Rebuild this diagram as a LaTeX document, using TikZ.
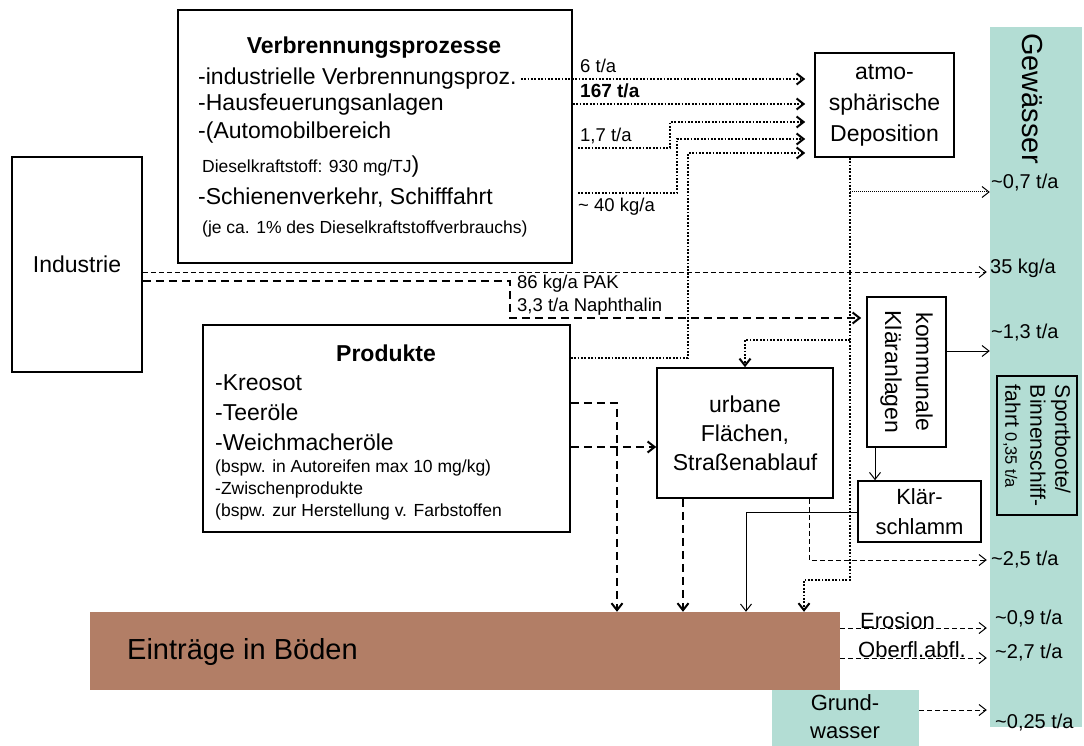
\documentclass[tikz,border=0pt]{standalone}
\usepackage{fontspec}
\setmainfont{Liberation Sans}
\usetikzlibrary{arrows.meta}
\definecolor{teal2}{RGB}{179,221,212}
\definecolor{soil}{RGB}{178,126,102}
\newcommand\fsz[2]{\fontsize{#1}{#2}\selectfont}
\begin{document}
\begin{tikzpicture}[x=1pt,y=-1pt,
 box/.style={draw,line width=1.6pt,inner sep=0pt,align=center},
 lt/.style={inner sep=0pt,anchor=west},
 big/.style={font=\fsz{23}{28}},
 sm/.style={font=\fsz{17.5}{20}},
 lab/.style={font=\fsz{18.5}{22}},
 gl/.style={inner sep=0pt,anchor=west,font=\fsz{20}{24}},
 tipA/.style={-{Straight Barb[length=7pt,width=11pt]}},
 dotA/.style={tipA,line width=2pt,dash pattern=on 1.8pt off 1.6pt},
 fdotA/.style={tipA,line width=1pt,dash pattern=on 1pt off 1pt},
 tdashA/.style={tipA,line width=2pt,dash pattern=on 8pt off 5pt},
 ndashA/.style={tipA,line width=1pt,dash pattern=on 5pt off 3pt},
 solA/.style={tipA,line width=1pt},
]
\useasboundingbox (0,0) rectangle (1084,746);
% filled areas
\node[fill=teal2,minimum width=92pt,minimum height=700pt,inner sep=0pt] (gew) at (1036,377) {};
\node[fill=soil,minimum width=750pt,minimum height=78pt,inner sep=0pt] (boden) at (465,651) {};
\node[fill=teal2,minimum width=147pt,minimum height=60pt,inner sep=0pt] (gw) at (845.5,720) {};
% boxes
\node[box,minimum width=394pt,minimum height=253pt] (verb) at (375,136.5) {};
\node[box,minimum width=130pt,minimum height=215pt,font=\fsz{23}{28}] (ind) at (77,264.5) {Industrie};
\node[box,minimum width=139pt,minimum height=104pt,font=\fsz{23}{31}] (atmo) at (884.5,105) {atmo-\\sphärische\\Deposition};
\node[box,minimum width=79pt,minimum height=150pt] (kom) at (906.5,372) {};
\node[rotate=-90,align=center,font=\fsz{23}{31},inner sep=0pt] (komt) at (906.5,372) {kommunale\\Kläranlagen};
\node[box,minimum width=123pt,minimum height=61pt,font=\fsz{22}{30}] (ks) at (919.5,511.5) {Klär-\\schlamm};
\node[box,minimum width=176pt,minimum height=130pt,font=\fsz{23}{29}] (urb) at (745,433) {urbane\\Flächen,\\Straßenablauf};
\node[box,minimum width=367pt,minimum height=207pt] (prod) at (386.5,428.5) {};
\node[box,line width=1.4pt,minimum width=80pt,minimum height=139pt] (sport) at (1037,445.5) {};
\node[rotate=-90,align=left,inner sep=0pt,font=\fsz{21}{25}] (sportt) at (1037,445.5) {Sportboote/\\Binnenschiff-\\fahrt {\fsz{16.5}{25}0,35 t/a}};
% Verbrennung texts
\node[font=\bfseries\fsz{23}{28},inner sep=0pt] (vt) at (374,48) {Verbrennungsprozesse};
\node[lt,big] (v1) at (198,79) {-industrielle Verbrennungsproz.};
\node[lt,big] (v2) at (198,105) {-Hausfeuerungsanlagen};
\node[lt,big] (v3) at (198,133) {-(Automobilbereich};
\node[lt,sm] (v4) at (202,167) {Dieselkraftstoff: 930 mg/TJ{\fsz{23}{28})}};
\node[lt,big] (v5) at (198,198) {-Schienenverkehr, Schifffahrt};
\node[lt,sm] (v6) at (202,229) {(je ca. 1\% des Dieselkraftstoffverbrauchs)};
% Produkte texts
\node[font=\bfseries\fsz{23}{28},inner sep=0pt] (pt) at (386,353) {Produkte};
\node[lt,big] (p1) at (215,383) {-Kreosot};
\node[lt,big] (p2) at (215,412) {-Teeröle};
\node[lt,big] (p3) at (215,442) {-Weichmacheröle};
\node[lt,sm] (p4) at (215,468) {(bspw. in Autoreifen max 10 mg/kg)};
\node[lt,sm] (p5) at (215,490) {-Zwischenprodukte};
\node[lt,sm] (p6) at (215,512) {(bspw. zur Herstellung v. Farbstoffen};
% labels
\node[lt,lab] (a1) at (580,66) {6 t/a};
\node[lt,font=\bfseries\fsz{19}{22}] (a2) at (580,91) {167 t/a};
\node[lt,lab] (a3) at (580,136) {1,7 t/a};
\node[lt,lab] (a4) at (578,207) {\textasciitilde{} 40 kg/a};
\node[lt,lab] (i1) at (517,284) {86 kg/a PAK};
\node[lt,lab] (i2) at (517,307) {3,3 t/a Naphthalin};
\node[rotate=-90,inner sep=0pt,font=\fsz{29}{34},anchor=west] (gewt) at (1032,33) {Gewässer};
\node[gl] (g1) at (991,183) {\textasciitilde0,7 t/a};
\node[gl] (g2) at (990,268) {35 kg/a};
\node[gl] (g3) at (991,333) {\textasciitilde1,3 t/a};
\node[gl] (g4) at (991,560) {\textasciitilde2,5 t/a};
\node[gl] (g5) at (995,619) {\textasciitilde0,9 t/a};
\node[gl] (g6) at (995,653) {\textasciitilde2,7 t/a};
\node[gl] (g7) at (995,723) {\textasciitilde0,25 t/a};
\node[lt,font=\fsz{29}{34}] (bt) at (127,652) {Einträge in Böden};
\node[lt,font=\fsz{22}{26}] (er) at (860,621) {Erosion};
\node[lt,font=\fsz{22}{26}] (ob) at (858,650) {Oberfl.abfl.};
\node[align=center,font=\fsz{22}{28},inner sep=0pt] (gwt) at (845,717) {Grund-\\wasser};
% coordinates
\coordinate (c3) at (578,148);
\coordinate (c4) at (578,193);
\coordinate (d1) at (850,192);
\coordinate (d2) at (850,340);
% connectors to atmospheric deposition
\draw[dotA,shorten >=9pt] ([xshift=4pt]v1.east) -- (atmo.west |- v1.east);
\draw[dotA,shorten >=9pt] (verb.east |- 0,104) -- (atmo.west |- 0,104);
\draw[dotA,shorten >=9pt] (c3) -| (670,122) -- (atmo.west |- 0,122);
\draw[dotA,shorten >=9pt] (c4) -| (677,139) -- (atmo.west |- 0,139);
\draw[dotA,shorten >=9pt] (prod.east |- 0,358) -| (688,153) -- (atmo.west |- 0,153);
% from deposition
\draw[dotA] (atmo.south -| 850,0) |- (804,580) -- (boden.north -| 804,0);
\draw[fdotA] (d1) -- (gew.west |- d1);
\draw[dotA] (d2) -| (urb.north);
% Industrie
\draw[ndashA,shorten >=3pt] (ind.east |- 0,272) -- (gew.west |- 0,272);
\draw[tdashA,shorten >=5pt] (ind.east |- 0,281) -| (510,318) -- (kom.west |- 0,318);
% Produkte
\draw[tdashA] (prod.east |- 0,403) -| (boden.north -| 617,0);
\draw[tdashA] (prod.east |- 0,447) -- (urb.west |- 0,447);
% urbane
\draw[tdashA] (urb.south -| 683,0) -- (boden.north -| 683,0);
\draw[ndashA,shorten >=3pt] (urb.south -| 809,0) |- (gew.west |- 0,560);
% Klaeranlagen
\draw[solA] (kom.east |- 0,351) -- (gew.west |- 0,351);
\draw[solA] (kom.south -| 875,0) -- (ks.north -| 875,0);
\draw[solA] (ks.west |- 0,512) -| (boden.north -| 746,0);
% Boden
\draw[ndashA,shorten >=3pt] (boden.east |- 0,628) -- (gew.west |- 0,628);
\draw[ndashA,shorten >=3pt] (boden.east |- 0,658) -- (gew.west |- 0,658);
\draw[ndashA,shorten >=3pt] (gw.east |- 0,710) -- (gew.west |- 0,710);
\end{tikzpicture}
\end{document}
